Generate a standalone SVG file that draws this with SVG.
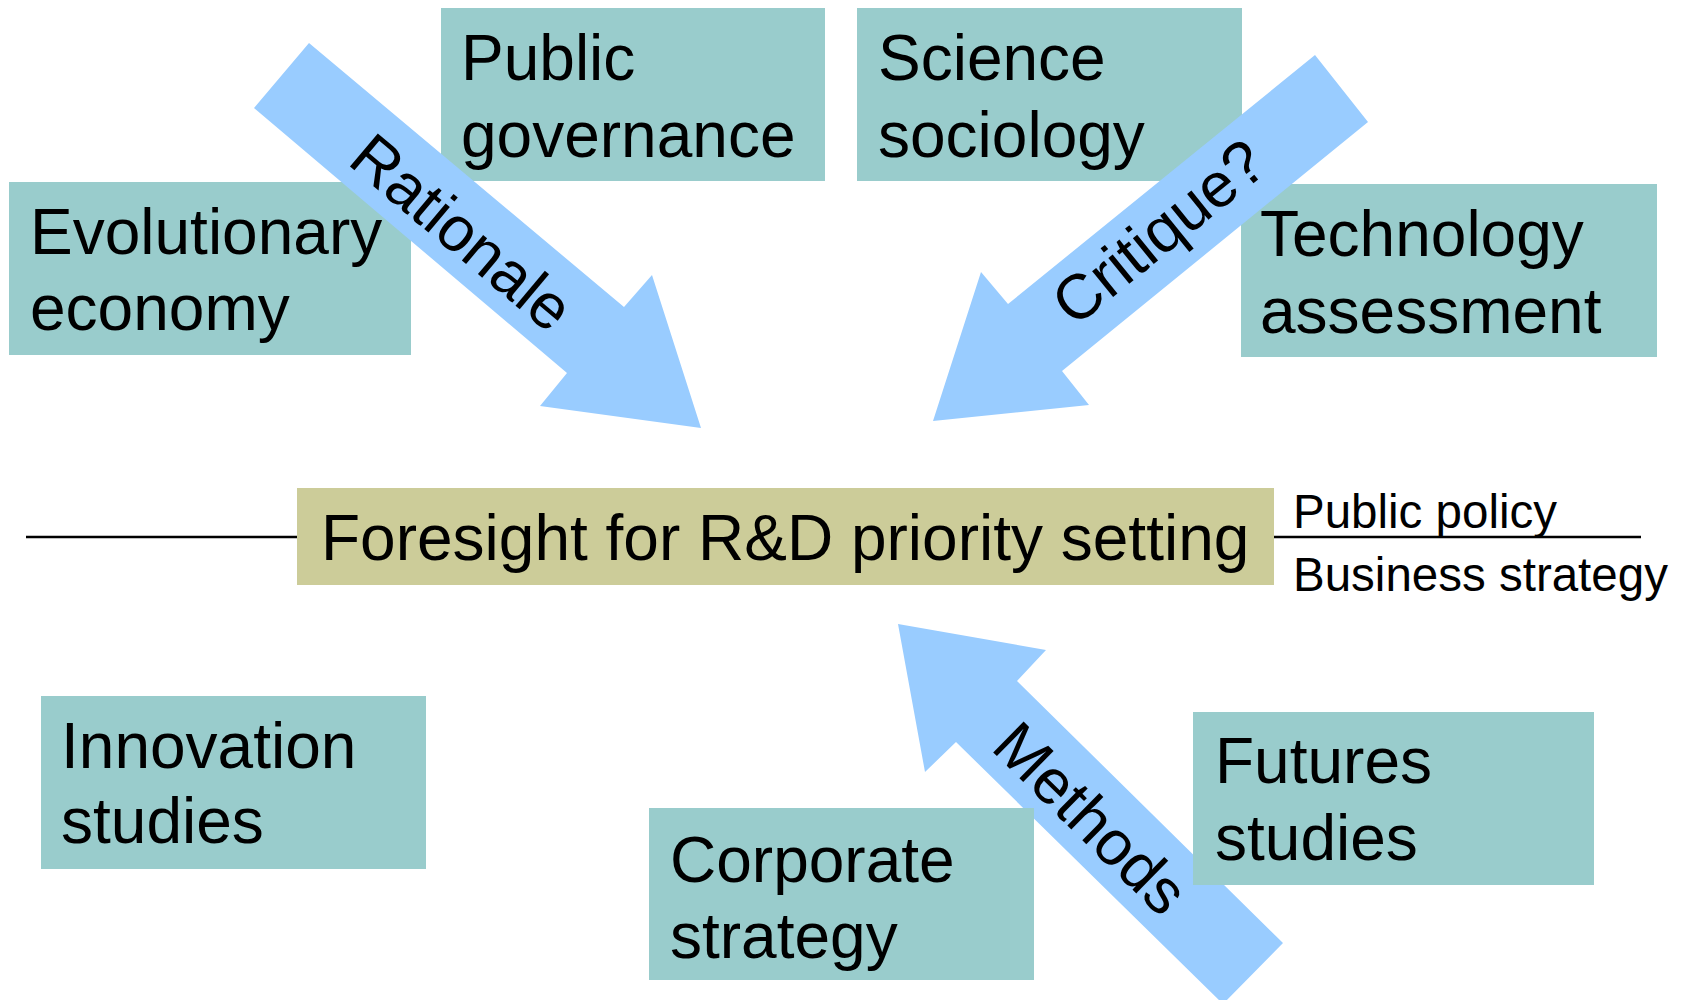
<svg xmlns="http://www.w3.org/2000/svg" width="1686" height="1000" viewBox="0 0 1686 1000">
<style>
.box{fill:#99CCCC}
.core{fill:#CCCC99}
.arrow{fill:#99CCFF}
.t{font-family:"Liberation Sans",Arial,sans-serif;font-size:64px;fill:#000}
.lab{font-family:"Liberation Sans",Arial,sans-serif;font-size:63px;fill:#000;text-anchor:middle}
.s{font-family:"Liberation Sans",Arial,sans-serif;font-size:47.5px;fill:#000}
</style>
<rect width="1686" height="1000" fill="#fff"/>
<g id="public-governance"><rect class="box" x="441" y="8" width="384" height="173"/><text class="t" x="461" y="80">Public</text><text class="t" x="461" y="157">governance</text></g>
<g id="science-sociology"><rect class="box" x="857" y="8" width="385" height="173"/><text class="t" x="878" y="80">Science</text><text class="t" x="878" y="157">sociology</text></g>
<g id="evolutionary-economy"><rect class="box" x="9" y="182" width="402" height="173"/><text class="t" x="30" y="254">Evolutionary</text><text class="t" x="30" y="330">economy</text></g>
<g id="technology-assessment"><rect class="box" x="1241" y="184" width="416" height="173"/><text class="t" x="1260" y="256">Technology</text><text class="t" x="1260" y="333">assessment</text></g>
<g id="connectors">
<line x1="26" y1="537" x2="1641" y2="537" stroke="#000" stroke-width="2.5"/>
<polygon class="arrow" points="309,43 624,307 652,275 701,428 540,406 567,373 254,108"/>
<text class="lab" transform="translate(462,232) rotate(40)" x="0" y="22">Rationale</text>
<polygon class="arrow" points="1315,55 1368,122 1062,371 1089,405 933,421 981,272 1008,304"/>
<text class="lab" transform="translate(1161,235) rotate(-39)" x="0" y="18">Critique?</text>
<polygon class="arrow" points="1283,943 1017,681 1046,650 898,624 925,772 956,742 1223,1004"/>
<text class="lab" transform="translate(1091,818) rotate(44.6)" x="0" y="22">Methods</text>
</g>
<g id="foresight"><rect class="core" x="297" y="488" width="977" height="97"/><text class="t" x="321" y="560">Foresight for R&amp;D priority setting</text></g>
<g id="public-policy"><text class="s" x="1293" y="528">Public policy</text></g>
<g id="business-strategy"><text class="s" x="1293" y="591">Business strategy</text></g>
<g id="innovation-studies"><rect class="box" x="41" y="696" width="385" height="173"/><text class="t" x="61" y="768">Innovation</text><text class="t" x="61" y="843">studies</text></g>
<g id="corporate-strategy"><rect class="box" x="649" y="808" width="385" height="172"/><text class="t" x="670" y="882">Corporate</text><text class="t" x="670" y="958">strategy</text></g>
<g id="futures-studies"><rect class="box" x="1193" y="712" width="401" height="173"/><text class="t" x="1215" y="783">Futures</text><text class="t" x="1215" y="860">studies</text></g>
</svg>
